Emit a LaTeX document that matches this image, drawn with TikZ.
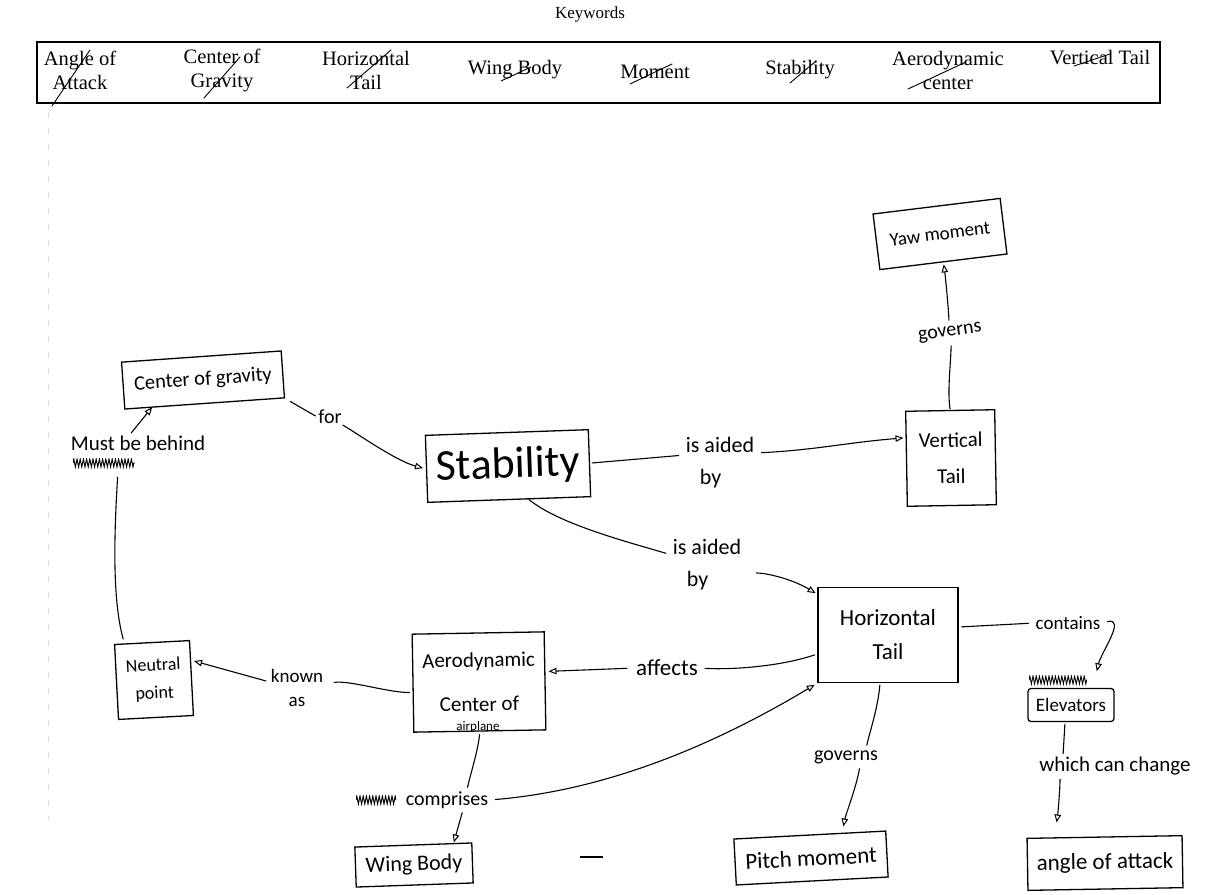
\documentclass[tikz,border=0pt]{standalone}
\usepackage{fontspec}
\setmainfont{Liberation Serif}
\newfontfamily\handfont{Carlito}
\usetikzlibrary{arrows.meta,decorations.pathmorphing,calc}
\newcommand\handsz[2]{\handfont\fontsize{#1}{#2}\selectfont}

\begin{document}
\begin{tikzpicture}[x=1pt,y=-1pt,
  box/.style={draw, line width=1.3pt, align=center, inner sep=0pt},
  lbl/.style={align=left, inner sep=1pt, font=\handsz{20}{30}},
  ln/.style={line width=1.1pt, line cap=round},
  arr/.style={ln, -{Triangle[open,length=8pt,width=6.5pt,line width=1pt]}},
  kw/.style={align=center, font=\fontsize{20.5}{24}\selectfont, inner sep=0pt},
  strike/.style={line width=0.9pt, line cap=round},
  scribble/.style={minimum width=#1, minimum height=10pt, inner sep=0pt,
    path picture={\draw[line width=0.9pt, decorate,
      decoration={zigzag, segment length=3.2pt, amplitude=4pt}]
      (path picture bounding box.west) -- (path picture bounding box.east);}},
]
\fill[white] (0,0) rectangle (1225,894);
\useasboundingbox (0,0) rectangle (1225,894);

% faint margin line
\draw[gray!30, line width=0.8pt, dash pattern=on 6pt off 10pt] (48,112) -- (48,820);

% ---- keyword bar ----
\node[font=\fontsize{17}{20}\selectfont] (kwtitle) at (590,14) {Keywords};
\node[draw, line width=1.5pt, minimum width=1123, minimum height=61, inner sep=0pt] (kwbar) at (598.5,72.5) {};
\node[kw] (k1) at (80,70) {Angle of\\Attack};
\node[kw] (k2) at (222,70) {Center of\\Gravity};
\node[kw] (k3) at (366,70) {Horizontal\\Tail};
\node[kw] (k4) at (515,70) {Wing Body};
\node[kw] (k5) at (655,72) {Moment};
\node[kw] (k6) at (800,70) {Stability};
\node[kw] (k7) at (948,70) {Aerodynamic\\center};
\node[kw] (k8) at (1100,58) {Vertical Tail};
% strike-outs
\draw[strike] (52,106) -- (90,50);
\draw[strike] (204,98) -- (240,57);
\draw[strike] (347,88) -- (391,50);
\draw[strike] (501,81) -- (531,67);
\draw[strike] (630,84) -- (672,64);
\draw[strike] (790,83) -- (816,61);
\draw[strike] (908,89) -- (966,62);
\draw[strike] (1074,66) -- (1110,54);

% ---- concept boxes ----
\node[box, rotate=7, minimum width=128, minimum height=56, font=\handsz{19}{20}] (yaw) at (940,234) {Yaw moment};
\node[box, rotate=4, minimum width=160, minimum height=47, font=\handsz{20.5}{22}] (cog) at (203,380) {Center of gravity};
\node[box, rotate=2, minimum width=163, minimum height=67, font=\handsz{44}{46}] (stab) at (508,466) {Stability};
\node[box, rotate=1, minimum width=89, minimum height=95, font=\handsz{21}{36}] (vt) at (951,458) {Vertical\\Tail};
\node[box, minimum width=140, minimum height=95, font=\handsz{23}{34}] (ht) at (888,635) {Horizontal\\Tail};
\node[box, rotate=3, minimum width=75, minimum height=75, font=\handsz{18}{28}] (np) at (154,680) {Neutral\\point};
\node[box, rotate=1, minimum width=132, minimum height=98, font=\handsz{21}{44}] (ac) at (479,682) {Aerodynamic\\Center of};
\node[font=\handsz{13}{13}, inner sep=0pt] (acsub) at (478,727) {airplane};
\node[box, rotate=2, minimum width=117, minimum height=40, font=\handsz{22}{22}] (wb) at (414,865) {Wing Body};
\node[box, rotate=3, minimum width=152, minimum height=46, font=\handsz{23}{24}] (pm) at (811,858) {Pitch moment};
\node[box, rounded corners=3pt, minimum width=86, minimum height=33, font=\handsz{19}{20}] (elev) at (1071,705) {Elevators};
\node[box, rotate=1, minimum width=155, minimum height=52, font=\handsz{23}{24}] (aoa) at (1105,863) {angle of attack};

% crossed-out words
\node[scribble=62] (scr1) at (104,463) {};
\node[scribble=40] (scr2) at (376,800) {};
\node[scribble=58] (scr3) at (1058,680) {};

% ---- linking phrases ----
\node[lbl] (for) at (330,417) {for};
\node[lbl, font=\handsz{22}{32}] (aid1) at (720,463) {is aided\\\hspace*{14pt}by};
\node[lbl, font=\handsz{22}{32}] (aid2) at (707,565) {is aided\\\hspace*{14pt}by};
\node[lbl, rotate=8] (gov1) at (950,333) {governs};
\node[lbl, font=\handsz{19}{22}] (cont) at (1068,623) {contains};
\node[lbl, font=\handsz{23}{24}] (aff) at (667,668) {affects};
\node[lbl] (gov2) at (846,757) {governs};
\node[lbl, align=center, font=\handsz{19}{24}] (known) at (297,688) {known\\as};
\node[lbl] (comp) at (447,800) {comprises};
\node[lbl, font=\handsz{21}{24}] (must) at (138,443) {Must be behind};
\node[lbl, font=\handsz{21}{24}] (which) at (1115,766) {which can change};

% ---- connectors ----
\draw[ln, shorten <=6pt, shorten >=2pt] (cog.south east) -- (for.west);
\draw[arr, shorten >=3pt] (for.south east) .. controls +(14,8) and +(-30,-8) .. (stab.west);

\draw[ln, shorten <=2pt, shorten >=6pt] (stab.east) -- ([yshift=8pt]aid1.west);
\draw[arr, shorten <=6pt, shorten >=2pt] ([yshift=10pt]aid1.east) .. controls +(60,-3) and +(-60,5) .. (vt.155);

\draw[ln, shorten >=6pt] (stab.-60) .. controls +(30,25) and +(-40,-12) .. ([yshift=10pt]aid2.west);
\draw[arr, shorten <=14pt, shorten >=2pt] ([yshift=-8pt]aid2.east) .. controls +(25,0) and +(-25,-15) .. (ht.150);

\draw[ln, shorten <=1pt, shorten >=5pt] (vt.north) .. controls +(-3,-20) and +(0,20) .. (gov1.south);
\draw[arr, shorten <=5pt, shorten >=2pt] (gov1.north) .. controls +(0,-12) and +(2,15) .. (yaw.south);

\draw[ln, shorten <=3pt, shorten >=6pt] ([yshift=8pt]ht.east) -- (cont.west);
\draw[arr, shorten <=6pt, shorten >=17pt] (cont.east) .. controls +(25,-6) and +(8,-35) .. ([xshift=22pt]elev.north);

\draw[ln, shorten <=2pt, shorten >=2pt] ([xshift=-6pt]elev.south) -- ([xshift=-52pt]which.north);
\draw[arr, shorten <=3pt, shorten >=14pt] ([xshift=-55pt]which.south) .. controls +(0,15) and +(3,-20) .. ([xshift=-50pt]aoa.north);

\draw[ln, shorten <=2pt, shorten >=4pt] ([xshift=-8pt]ht.south) .. controls +(-2,25) and +(3,-15) .. ([xshift=20pt]gov2.north);
\draw[arr, shorten <=4pt, shorten >=8pt] ([xshift=14pt]gov2.south) .. controls +(-3,20) and +(4,-20) .. ([xshift=32pt]pm.north);

\draw[ln, shorten <=3pt, shorten >=6pt] (ht.195) .. controls +(-35,12) and +(35,2) .. (aff.east);
\draw[arr, shorten <=8pt, shorten >=3pt] (aff.west) -- (ac.8);

\draw[ln, shorten <=3pt, shorten >=10pt] (ac.188) .. controls +(-25,0) and +(25,-4) .. ([yshift=4pt]known.east);
\draw[arr, shorten <=4pt, shorten >=3pt] ([yshift=6pt]known.west) -- (np.25);

\draw[ln, shorten <=3pt, shorten >=9pt] ([xshift=-28pt]np.north) .. controls +(-14,-50) and +(-2,40) .. ([xshift=14pt]scr1.south);
\draw[arr, shorten <=2pt, shorten >=4pt] ([xshift=-8pt]must.north) -- ([xshift=-50pt]cog.south);

\draw[ln, shorten <=3pt, shorten >=3pt] (ac.south) .. controls +(-2,20) and +(3,-15) .. ([xshift=20pt]comp.north);
\draw[arr, shorten <=3pt, shorten >=2pt] ([xshift=16pt]comp.south) -- ([xshift=40pt]wb.north);
\draw[arr, shorten <=6pt, shorten >=3pt] (comp.east) .. controls +(120,-10) and +(-100,60) .. (ht.south west);

% stray pen mark
\draw[line width=1.1pt] (580,857) -- (603,857);
\end{tikzpicture}
\end{document}
